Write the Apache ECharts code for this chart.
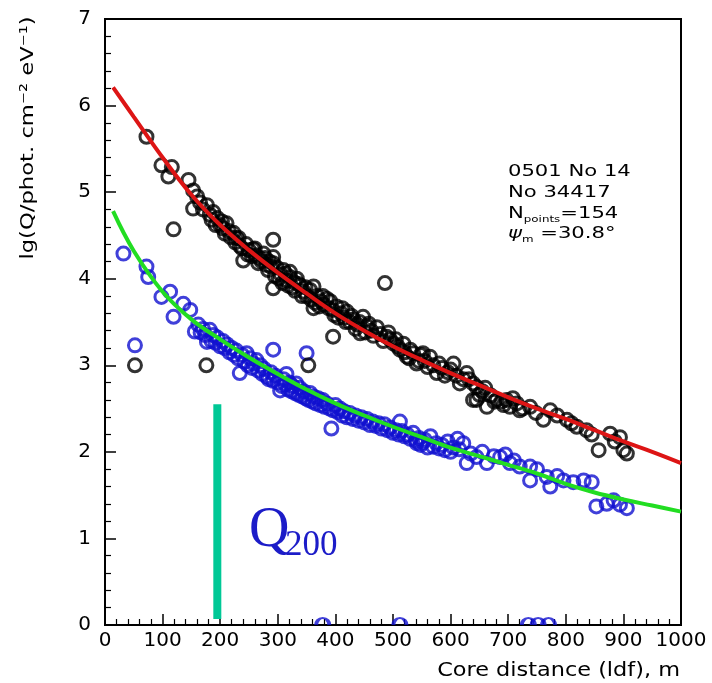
<!DOCTYPE html>
<html>
<head>
<meta charset="utf-8">
<script src="https://cdn.jsdelivr.net/npm/echarts@6/dist/echarts.min.js"></script>
<style>
  html, body { margin: 0; padding: 0; background: #fff; }
  #chart { width: 712px; height: 683px; }
</style>
</head>
<body>
<div id="chart"></div>
<script>
// Distances (m) at which the two lateral distribution fits are tabulated
const fitDist = [14, 50, 100, 150, 200, 250, 300, 350, 400, 450, 500, 550, 600, 650, 700, 750, 800, 850, 900, 950, 1000];
// lg Q of the fit through the black (upper) detector set
const fitUpper = [6.21, 5.87, 5.40, 4.97, 4.62, 4.33, 4.07, 3.83, 3.60, 3.40, 3.22, 3.06, 2.91, 2.77, 2.63, 2.50, 2.38, 2.25, 2.12, 2.00, 1.87];
// lg Q of the fit through the blue (lower) detector set
const fitLower = [4.78, 4.32, 3.85, 3.53, 3.30, 3.09, 2.90, 2.72, 2.56, 2.42, 2.29, 2.17, 2.05, 1.95, 1.85, 1.75, 1.63, 1.53, 1.45, 1.38, 1.31];

// Measured points, [core distance m, lg Q]
const upperPts = [
  [52,3.00],[72,5.64],[98,5.31],[110,5.18],[116,5.29],[119,4.57],[145,5.14],[153,5.02],[153,4.81],[160,4.95],
  [165,4.88],[170,4.80],[176,3.00],[177,4.85],[182,4.74],[185,4.68],[188,4.77],[192,4.62],[195,4.70],[200,4.62],
  [203,4.66],[205,4.58],[208,4.52],[211,4.64],[215,4.55],[218,4.48],[223,4.53],[226,4.42],[228,4.47],[232,4.47],
  [234,4.38],[238,4.35],[240,4.21],[245,4.40],[248,4.28],[250,4.33],[255,4.26],[257,4.34],[260,4.35],[262,4.27],
  [266,4.18],[268,4.24],[272,4.20],[275,4.29],[278,4.24],[280,4.16],[283,4.10],[285,4.20],[288,4.14],[292,4.45],
  [292,4.25],[292,4.18],[292,3.89],[295,4.03],[298,4.13],[302,4.00],[305,4.05],[308,3.95],[310,4.10],[313,4.06],
  [315,3.98],[318,3.92],[321,4.02],[321,4.08],[325,3.90],[328,3.96],[330,3.86],[333,4.00],[336,3.94],[339,3.92],
  [342,3.80],[345,3.85],[348,3.90],[350,3.80],[353,3.00],[356,3.87],[358,3.76],[362,3.91],[362,3.66],[365,3.72],
  [368,3.80],[372,3.68],[375,3.74],[378,3.80],[380,3.70],[385,3.77],[388,3.66],[391,3.74],[395,3.64],[396,3.33],
  [398,3.58],[402,3.68],[405,3.55],[410,3.60],[412,3.66],[415,3.55],[418,3.50],[420,3.62],[425,3.50],[428,3.57],
  [431,3.53],[435,3.42],[438,3.47],[442,3.50],[443,3.37],[448,3.56],[452,3.38],[455,3.45],[458,3.48],[462,3.40],
  [466,3.34],[472,3.44],[478,3.36],[483,3.28],[486,3.95],[489,3.33],[492,3.38],[495,3.30],[501,3.25],[505,3.30],
  [508,3.22],[512,3.18],[518,3.25],[520,3.15],[524,3.10],[528,3.08],[530,3.18],[535,3.14],[541,3.02],[545,3.05],
  [548,3.12],[552,3.14],[555,3.05],[560,2.98],[564,3.10],[570,3.00],[576,2.91],[580,3.02],[585,2.97],[590,2.88],
  [595,2.92],[600,2.95],[605,3.02],[610,2.88],[616,2.79],[622,2.84],[628,2.91],[632,2.84],[639,2.60],[639,2.79],
  [645,2.75],[645,2.60],[650,2.66],[655,2.70],[660,2.74],[663,2.52],[670,2.65],[676,2.58],[680,2.60],[688,2.58],
  [692,2.54],[697,2.60],[703,2.52],[708,2.62],[715,2.56],[720,2.48],[725,2.50],[738,2.52],[748,2.45],[761,2.37],
  [773,2.48],[785,2.42],[802,2.37],[810,2.33],[819,2.29],[836,2.25],[845,2.20],[857,2.02],[877,2.21],[885,2.12],
  [894,2.17],[900,2.02],[906,1.98]
];
const lowerPts = [
  [32,4.29],[52,3.23],[72,4.14],[75,4.02],[98,3.79],[113,3.85],[119,3.56],[136,3.71],[148,3.64],[156,3.39],
  [162,3.47],[166,3.38],[170,3.42],[174,3.35],[177,3.27],[182,3.41],[185,3.28],[188,3.35],[192,3.26],[195,3.32],
  [200,3.22],[205,3.28],[208,3.20],[212,3.24],[216,3.15],[220,3.20],[224,3.12],[228,3.17],[231,3.08],[234,2.91],
  [238,3.12],[242,3.04],[246,3.14],[248,3.00],[252,3.08],[255,2.97],[258,3.02],[263,3.06],[266,2.94],[270,3.00],
  [273,2.90],[276,2.96],[281,2.87],[284,2.84],[288,2.92],[292,3.18],[292,2.82],[296,2.88],[300,2.80],[304,2.71],
  [307,2.76],[310,2.84],[313,2.78],[315,2.90],[318,2.72],[320,2.80],[324,2.70],[326,2.76],[330,2.68],[332,2.79],
  [336,2.66],[338,2.74],[342,2.64],[345,2.70],[348,2.62],[350,3.14],[353,2.60],[356,2.68],[360,2.58],[362,2.64],
  [366,2.56],[370,2.62],[374,2.54],[378,2.60],[381,2.52],[385,2.56],[390,2.50],[393,2.27],[396,2.48],[400,2.54],
  [404,2.46],[408,2.50],[412,2.42],[415,2.47],[420,2.40],[425,2.45],[430,2.38],[435,2.42],[440,2.36],[445,2.40],
  [450,2.34],[455,2.38],[460,2.31],[465,2.35],[470,2.30],[475,2.33],[480,2.27],[485,2.32],[490,2.25],[495,2.28],
  [500,2.22],[505,2.25],[510,2.20],[512,2.35],[515,2.24],[520,2.18],[525,2.20],[530,2.15],[535,2.22],[540,2.13],
  [541,2.10],[545,2.16],[548,2.08],[552,2.11],[555,2.14],[560,2.05],[565,2.18],[570,2.06],[575,2.10],[580,2.04],
  [585,2.08],[590,2.02],[595,2.12],[600,2.00],[605,2.05],[612,2.15],[615,2.03],[622,2.10],[628,1.87],[635,1.98],
  [645,1.94],[655,2.00],[663,1.87],[675,1.95],[686,1.94],[695,1.97],[703,1.87],[710,1.90],[720,1.83],[738,1.83],
  [738,1.67],[750,1.80],[767,1.71],[773,1.60],[785,1.72],[796,1.67],[813,1.65],[831,1.67],[845,1.65],[853,1.37],
  [871,1.40],[883,1.44],[894,1.39],[906,1.35]
];
// Lower-set detectors with zero signal, sitting on the axis
const lowerZero = [[378,0],[512,0],[735,0],[752,0],[770,0]];

// Marker at 200 m where Q200 is taken
const q200Dist = 195;
const q200Span = [0.07, 2.55];

const FONT = 'DejaVu Sans';
const BLUE = '#1010d0';

function pairs(xs, ys) { return xs.map((x, i) => [x, ys[i]]); }

const chart = echarts.init(document.getElementById('chart'), null, { renderer: 'canvas' });

const openCircle = (color) => ({
  color: 'rgba(0,0,0,0)',
  borderColor: color,
  borderWidth: 3
});

chart.setOption({
  animation: false,
  backgroundColor: '#fff',
  grid: {
    left: 105, right: 31, top: 19, bottom: 58,
    show: true, borderColor: '#000', borderWidth: 2, backgroundColor: 'rgba(0,0,0,0)'
  },
  xAxis: {
    type: 'value', min: 0, max: 1000, interval: 100,
    axisLine: { show: true, lineStyle: { color: '#000', width: 2 } },
    axisTick: { show: true, inside: true, length: 11, lineStyle: { color: '#000', width: 1.5 } },
    minorTick: { show: true, splitNumber: 5, length: 6, lineStyle: { color: '#000', width: 1.2 } },
    splitLine: { show: false },
    axisLabel: { show: true, color: '#000', fontFamily: FONT, fontSize: 20, margin: 6,
                 formatter: (v) => String(v) }
  },
  yAxis: {
    type: 'value', min: 0, max: 7, interval: 1,
    axisLine: { show: true, lineStyle: { color: '#000', width: 2 } },
    axisTick: { show: true, inside: true, length: 11, lineStyle: { color: '#000', width: 1.5 } },
    minorTick: { show: true, splitNumber: 5, length: 6, lineStyle: { color: '#000', width: 1.2 } },
    splitLine: { show: false },
    axisLabel: { show: true, color: '#000', fontFamily: FONT, fontSize: 20, margin: 14,
                 formatter: (v) => String(v) }
  },
  series: [
    {
      type: 'scatter', data: lowerPts, symbol: 'circle', symbolSize: 13,
      itemStyle: openCircle(BLUE), emphasis: { disabled: true }, z: 2
    },
    {
      type: 'scatter', data: lowerZero,
      symbol: 'path://M0,10 A10,10 0 0 1 20,10',
      symbolSize: [13, 7], symbolOffset: [0, -3.5],
      itemStyle: openCircle(BLUE), emphasis: { disabled: true }, z: 2
    },
    {
      type: 'scatter', data: upperPts, symbol: 'circle', symbolSize: 13,
      itemStyle: openCircle('#000'), emphasis: { disabled: true }, z: 3
    },
    {
      type: 'line', data: pairs(fitDist, fitLower), smooth: 0.4, showSymbol: false,
      lineStyle: { color: '#22dd22', width: 4 }, z: 4
    },
    {
      type: 'line', data: pairs(fitDist, fitUpper), smooth: 0.4, showSymbol: false,
      lineStyle: { color: '#dd1515', width: 4 }, z: 4
    },
    {
      type: 'line', data: q200Span.map((y) => [q200Dist, y]), showSymbol: false,
      lineStyle: { color: '#00c896', width: 8, cap: 'butt' }, z: 5
    }
  ],
  graphic: [
    {
      type: 'text', x: 28, y: 138, rotation: Math.PI / 2, scaleX: 1.26,
      style: { text: 'lg(Q/phot. cm\u207B\u00B2 eV\u207B\u00B9)', fontFamily: FONT, fontSize: 18,
               fill: '#000', align: 'center', verticalAlign: 'middle' }
    },
    {
      type: 'text', x: 680, y: 671, scaleX: 1.12,
      style: { text: 'Core distance (ldf), m', fontFamily: FONT, fontSize: 20,
               fill: '#000', align: 'right', verticalAlign: 'middle' }
    },
    {
      type: 'text', x: 508, y: 172, scaleX: 1.32,
      style: { text: '0501 No 14', fontFamily: FONT, fontSize: 16, fill: '#000', verticalAlign: 'middle' }
    },
    {
      type: 'text', x: 508, y: 193, scaleX: 1.32,
      style: { text: 'No 34417', fontFamily: FONT, fontSize: 16, fill: '#000', verticalAlign: 'middle' }
    },
    {
      type: 'text', x: 508, y: 214, scaleX: 1.32,
      style: {
        text: '{b|N}{s|points}{b|=154}', verticalAlign: 'middle',
        rich: {
          b: { fontFamily: FONT, fontSize: 16, lineHeight: 20, fill: '#000' },
          s: { fontFamily: FONT, fontSize: 9, lineHeight: 12, fill: '#000', verticalAlign: 'bottom' }
        }
      }
    },
    {
      type: 'text', x: 508, y: 234, scaleX: 1.32,
      style: {
        text: '{g|\u03C8}{s|m}{b| =30.8\u00B0}', verticalAlign: 'middle',
        rich: {
          g: { fontFamily: FONT, fontSize: 16, fontStyle: 'italic', lineHeight: 20, fill: '#000' },
          b: { fontFamily: FONT, fontSize: 16, lineHeight: 20, fill: '#000' },
          s: { fontFamily: FONT, fontSize: 9, lineHeight: 12, fill: '#000', verticalAlign: 'bottom' }
        }
      }
    },
    {
      type: 'text', x: 249, y: 531,
      style: { text: 'Q', fontFamily: 'Liberation Serif', fontSize: 56, fill: '#1c1cc8', verticalAlign: 'middle' }
    },
    {
      type: 'text', x: 285, y: 546,
      style: { text: '200', fontFamily: 'Liberation Serif', fontSize: 35, fill: '#1c1cc8', verticalAlign: 'middle' }
    }
  ]
});
</script>
</body>
</html>
